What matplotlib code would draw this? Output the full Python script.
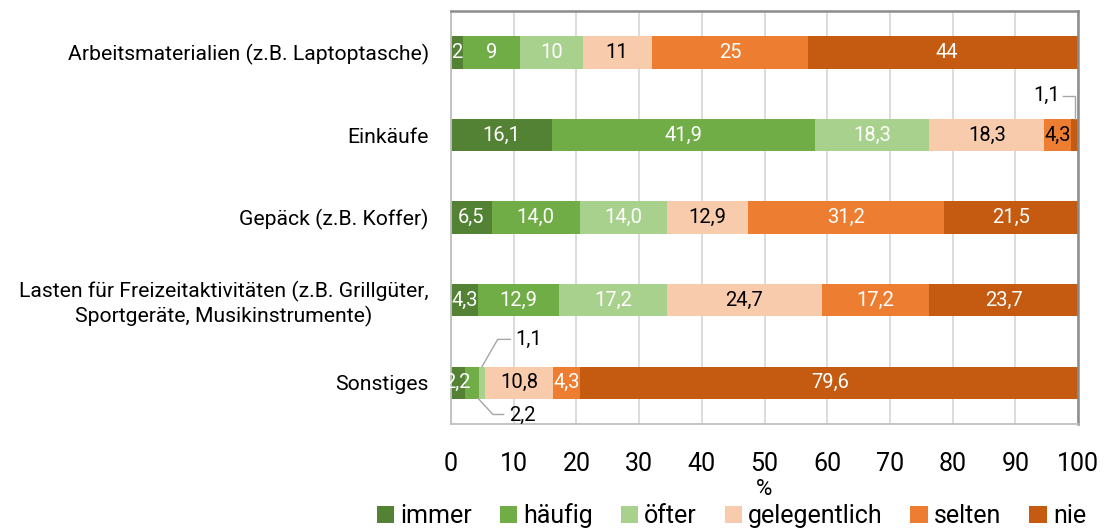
import matplotlib.pyplot as plt
import numpy as np

plt.rcParams["font.family"] = ["Roboto", "DejaVu Sans"]

categories = [
    "Arbeitsmaterialien (z.B. Laptoptasche)",
    "Einkäufe",
    "Gepäck (z.B. Koffer)",
    "Lasten für Freizeitaktivitäten (z.B. Grillgüter,\nSportgeräte, Musikinstrumente)",
    "Sonstiges",
]
series = ["immer", "häufig", "öfter", "gelegentlich", "selten", "nie"]
colors = ["#548235", "#70AD47", "#A9D18E", "#F8CBAD", "#ED7D31", "#C55A11"]

immer = [2, 16.1, 6.5, 4.3, 2.2]
haeufig = [9, 41.9, 14.0, 12.9, 2.2]
oefter = [10, 18.3, 14.0, 17.2, 1.1]
gelegentlich = [11, 18.3, 12.9, 24.7, 10.8]
selten = [25, 4.3, 31.2, 17.2, 4.3]
nie = [44, 1.1, 21.5, 23.7, 79.6]
decimals = [0, 1, 1, 1, 1]

values = np.array([immer, haeufig, oefter, gelegentlich, selten, nie])

# labels drawn as callouts instead of inside the bar: (row, series)
callouts = {(1, 5): "above_right", (4, 2): "above", (4, 1): "below"}
dark_text = {(1, 4)}


def fmt(v, d):
    return f"{v:.{d}f}".replace(".", ",")


fig = plt.figure(figsize=(11.08, 5.32), dpi=100)
ax = fig.add_axes([0.407, 0.203, 0.566, 0.776])

y = np.arange(len(categories))
h = 0.39
fs = 14.5
left = np.zeros(len(categories))
for j, name in enumerate(series):
    ax.barh(y, values[j], left=left, height=h, color=colors[j], label=name, zorder=2)
    for i in range(len(categories)):
        v = values[j, i]
        txt = fmt(v, decimals[i])
        seg_l, seg_r = left[i], left[i] + v
        if (i, j) in callouts:
            kind = callouts[(i, j)]
            gray = "#a6a6a6"
            if kind == "above_right":
                xm = (seg_l + seg_r) / 2
                yt = y[i] - h / 2
                ax.plot([xm, xm, xm - 1.8], [yt, yt - 0.28, yt - 0.28], color=gray, lw=1, zorder=3, clip_on=False)
                ax.text(xm - 2.4, yt - 0.28, txt, ha="right", va="center", fontsize=fs)
            elif kind == "above":
                xm = (seg_l + seg_r) / 2
                yt = y[i] - h / 2
                ax.plot([xm, xm + 2.5, xm + 4.5], [yt, yt - 0.33, yt - 0.33], color=gray, lw=1, zorder=3)
                ax.text(xm + 5.3, yt - 0.33, txt, ha="left", va="center", fontsize=fs)
            else:
                xm = seg_r
                yb = y[i] + h / 2
                ax.plot([xm, xm + 2.3, xm + 4.0], [yb, yb + 0.19, yb + 0.19], color=gray, lw=1, zorder=3)
                ax.text(xm + 4.8, yb + 0.2, txt, ha="left", va="center", fontsize=fs)
            continue
        c = "black" if (j == 3 or (i, j) in dark_text) else "white"
        ax.text((seg_l + seg_r) / 2, y[i], txt, ha="center", va="center", color=c, fontsize=fs, zorder=3)
    left += values[j]

ax.set_xlim(0, 100)
ax.set_ylim(len(categories) - 0.5, -0.5)
ax.set_xticks(np.arange(0, 101, 10))
ax.set_yticks(y)
ax.set_yticklabels(categories, fontsize=15.2, multialignment="center")
ax.tick_params(axis="x", labelsize=18, length=0, pad=20)
ax.tick_params(axis="y", length=0, pad=16)
ax.set_xlabel("%", fontsize=16, labelpad=2)
ax.xaxis.grid(True, color="#d9d9d9", lw=1.3, zorder=0)
ax.set_axisbelow(True)
for s in ["left", "bottom"]:
    ax.spines[s].set_color("#bfbfbf")
    ax.spines[s].set_linewidth(1.3)
for s in ["top", "right"]:
    ax.spines[s].set_color("#8c8c8c")
    ax.spines[s].set_linewidth(1.8)

fig.legend(loc="lower center", bbox_to_anchor=(0.66, -0.035), ncol=6, frameon=False,
           fontsize=18, handlelength=0.7, handleheight=0.7, handletextpad=0.25, columnspacing=1.1)

fig.savefig("out.png", dpi=100)
